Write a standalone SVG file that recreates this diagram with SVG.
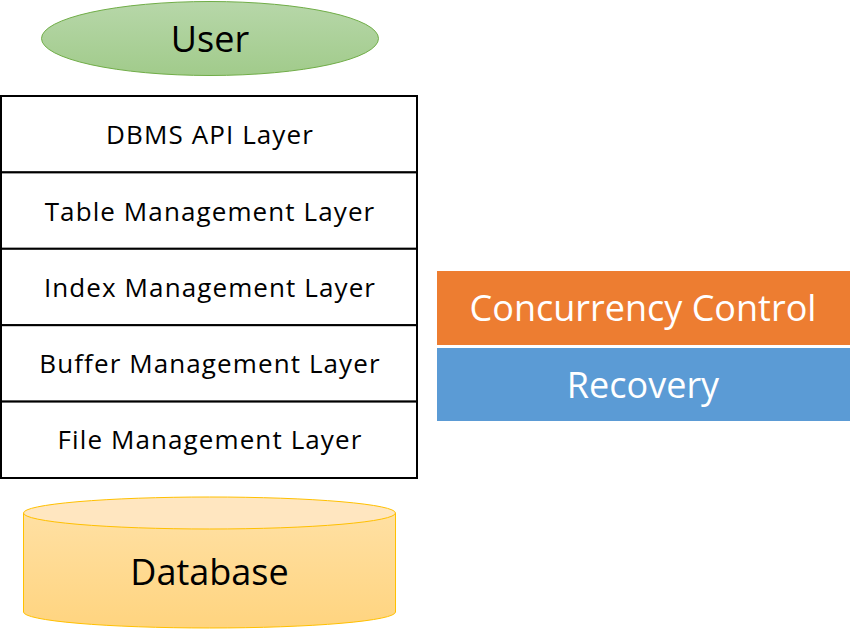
<svg xmlns="http://www.w3.org/2000/svg" width="853" height="629" viewBox="0 0 853 629">
<defs>
<linearGradient id="gUser" x1="0" y1="0" x2="0" y2="1">
<stop offset="0" stop-color="#B7D7A9"/>
<stop offset="1" stop-color="#A1CB8B"/>
</linearGradient>
<linearGradient id="gDb" x1="0" y1="0" x2="0" y2="1">
<stop offset="0" stop-color="#FFE0A3"/>
<stop offset="1" stop-color="#FFD47F"/>
</linearGradient>
<style>
text{font-family:"Open Sans","Noto Sans",sans-serif;text-anchor:middle;dominant-baseline:central}
.layer rect{fill:#fff;stroke:#000;stroke-width:2}
.lt{font-size:26px;fill:#000;letter-spacing:1.1px}
.big{font-size:36px}
.w{fill:#fff}
</style>
</defs>
<g id="user">
<ellipse cx="210" cy="38.5" rx="168.5" ry="37" fill="url(#gUser)" stroke="#70AD47" stroke-width="1"/>
<text x="210" y="38" class="big">User</text>
</g>
<g id="layers" class="layer">
<g id="dbms-api"><rect x="1" y="96" width="416" height="76.4"/><text class="lt" x="210" y="134">DBMS API Layer</text></g>
<g id="table-mgmt"><rect x="1" y="172.4" width="416" height="76.4"/><text class="lt" x="210" y="211">Table Management Layer</text></g>
<g id="index-mgmt"><rect x="1" y="248.8" width="416" height="76.4"/><text class="lt" x="210" y="287">Index Management Layer</text></g>
<g id="buffer-mgmt"><rect x="1" y="325.2" width="416" height="76.4"/><text class="lt" x="210" y="363">Buffer Management Layer</text></g>
<g id="file-mgmt"><rect x="1" y="401.6" width="416" height="76.4"/><text class="lt" x="210" y="439">File Management Layer</text></g>
</g>
<g id="concurrency">
<rect x="437" y="271" width="413" height="74" fill="#ED7D31"/>
<text x="643" y="307" class="big w">Concurrency Control</text>
</g>
<g id="recovery">
<rect x="437" y="348" width="413" height="73" fill="#5B9BD5"/>
<text x="643" y="384" class="big w">Recovery</text>
</g>
<g id="database">
<path d="M23.5 513 L23.5 612 A186 16 0 0 0 395.5 612 L395.5 513" fill="url(#gDb)" stroke="#FFC000" stroke-width="1"/>
<ellipse cx="209.5" cy="513" rx="186" ry="16" fill="#FFE6C0" stroke="#FFC000" stroke-width="1"/>
<text x="209.5" y="571" class="big">Database</text>
</g>
<g id="connectors"/>
</svg>
